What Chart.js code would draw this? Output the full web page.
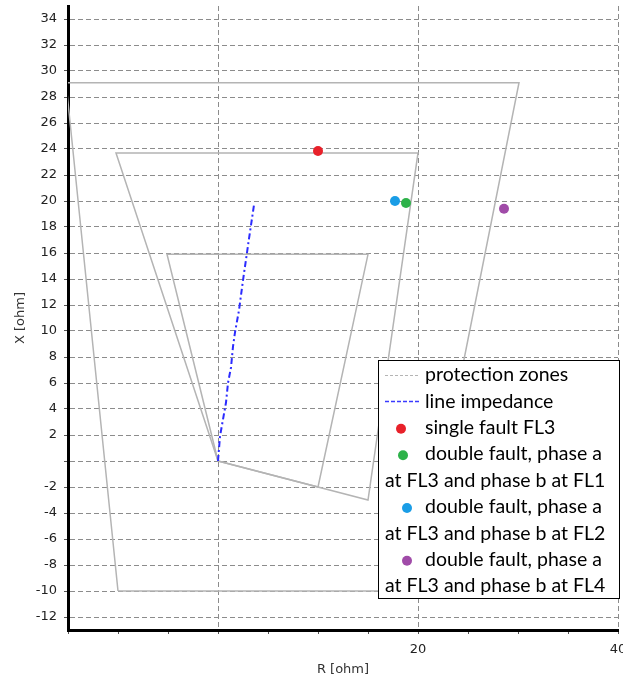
<!DOCTYPE html>
<html>
<head>
<meta charset="utf-8">
<script src="https://cdn.jsdelivr.net/npm/chart.js@4.4.1/dist/chart.umd.min.js"></script>
<style>
html, body { margin: 0; padding: 0; overflow: hidden; background: #fff; }
#wrap { position: relative; width: 623px; height: 683px; }
</style>
</head>
<body>
<div id="wrap"><canvas id="chart"></canvas></div>
<script>
// protection zone polygons (R, X in ohm)
let zone1R = [0, -5.1, 15, 10, 0];
let zone1X = [0, 15.9, 15.9, -2, 0];
let zone2R = [0, -10.2, 20, 15, 0];
let zone2X = [0, 23.7, 23.7, -3, 0];
let zone3R = [-10, -15.2, 30.1, 20, -10];
let zone3X = [-10, 29.1, 29.1, -10, -10];

// line impedance trace
let lineR = [0, 0.2, 0.5, 0.8, 1.0, 1.3, 1.5, 1.7, 2.1, 2.5, 3.1, 3.6];
let lineX = [0, 1.9, 3.2, 4.5, 6.0, 7.2, 8.8, 9.9, 11.6, 13.9, 17.1, 19.7];

// fault points
let faultLabels = [
    ['single fault FL3'],
    ['double fault, phase a', 'at FL3 and phase b at FL1'],
    ['double fault, phase a', 'at FL3 and phase b at FL2'],
    ['double fault, phase a', 'at FL3 and phase b at FL4']
];
let faultR = [10, 18.8, 17.7, 28.6];
let faultX = [23.85, 19.85, 20.0, 19.4];
let faultColors = ['#e8212a', '#2eb24a', '#1a9de6', '#a04ba8'];

// axis ticks
let xTicks = [-15, -10, -5, 0, 5, 10, 15, 20, 25, 30, 35, 40];
let xLabelled = [20, 40];
let yTicks = [-12, -10, -8, -6, -4, -2, 0, 2, 4, 6, 8, 10, 12, 14, 16,
              18, 20, 22, 24, 26, 28, 30, 32, 34];
let yHidden = [0];

let zoneColor = '#b4b4b4';
let lineColor = '#2b2bff';

let toPoints = function (rs, xs) {
    return rs.map((r, i) => ({ x: r, y: xs[i] }));
};

let zoneSet = function (rs, xs, label, inLegend) {
    return {
        label: label,
        data: toPoints(rs, xs),
        showLine: true,
        borderColor: zoneColor,
        borderWidth: 1.5,
        pointRadius: 0,
        tension: 0,
        order: 3,
        legendSkip: !inLegend
    };
};

let datasets = [
    zoneSet(zone1R, zone1X, 'protection zones', true),
    zoneSet(zone2R, zone2X, 'protection zones', false),
    zoneSet(zone3R, zone3X, 'protection zones', false),
    {
        label: 'line impedance',
        data: toPoints(lineR, lineX),
        showLine: true,
        borderColor: lineColor,
        borderWidth: 2,
        borderDash: [6, 3, 2, 3],
        pointRadius: 0,
        tension: 0,
        order: 2
    }
];

faultLabels.forEach((lab, i) => {
    datasets.push({
        label: lab,
        data: [{ x: faultR[i], y: faultX[i] }],
        showLine: false,
        pointRadius: 5,
        pointBorderWidth: 0,
        backgroundColor: faultColors[i],
        borderColor: faultColors[i],
        order: 1
    });
});

// legend drawn inside the plot, lower right
let legendBox = {
    id: 'legendBox',
    afterDatasetsDraw(chart) {
        let c = chart.ctx;
        let dotX = [401, 403, 407, 407];
        let rowY = i => 375 + i * 26.4;
        c.save();
        c.fillStyle = '#fff';
        c.fillRect(378.5, 360.5, 241, 238);
        c.strokeStyle = '#000';
        c.lineWidth = 1;
        c.strokeRect(378.5, 360.5, 241, 238);
        c.font = '19.5px Lato';
        c.textBaseline = 'middle';
        let row = 0;
        let dot = 0;
        chart.data.datasets.forEach(ds => {
            if (ds.legendSkip) return;
            let y = rowY(row);
            if (ds.showLine) {
                let isZone = ds.borderColor === zoneColor;
                c.save();
                c.strokeStyle = isZone ? zoneColor : '#3a3aff';
                c.lineWidth = isZone ? 1.2 : 1.5;
                c.setLineDash(isZone ? [3, 2] : [4, 2]);
                c.beginPath();
                c.moveTo(385, Math.round(y) + 0.5);
                c.lineTo(419, Math.round(y) + 0.5);
                c.stroke();
                c.restore();
            } else {
                c.fillStyle = ds.backgroundColor;
                c.beginPath();
                c.arc(dotX[dot], y + 1, 5, 0, Math.PI * 2);
                c.fill();
                dot++;
            }
            let lines = [].concat(ds.label);
            c.fillStyle = '#000';
            c.fillText(lines[0], 425, y);
            for (let k = 1; k < lines.length; k++) {
                row++;
                c.fillText(lines[k], 385, rowY(row));
            }
            row++;
        });
        c.restore();
    }
};

let tickFont = { family: 'DejaVu Sans', size: 13 };
let titleFont = { family: 'DejaVu Sans', size: 13 };

new Chart(document.getElementById('chart'), {
    type: 'scatter',
    data: { datasets: datasets },
    options: {
        responsive: true,
        maintainAspectRatio: false,
        animation: false,
        events: [],
        layout: { padding: { top: 6, right: 5, left: 0, bottom: 0 } },
        plugins: {
            legend: { display: false },
            tooltip: { enabled: false }
        },
        scales: {
            x: {
                type: 'linear',
                min: -15,
                max: 40,
                afterBuildTicks: s => { s.ticks = xTicks.map(v => ({ value: v })); },
                ticks: {
                    autoSkip: false,
                    maxRotation: 0,
                    padding: 8,
                    color: '#222',
                    font: tickFont,
                    callback: v => xLabelled.includes(v) ? v : ''
                },
                grid: {
                    color: c => (c.tick && c.tick.value % 20 === 0) ? '#8c8c8c' : 'transparent',
                    tickColor: '#555',
                    tickLength: 4,
                    lineWidth: 1
                },
                border: { color: '#000', width: 3, dash: [5, 3] },
                title: {
                    display: true,
                    text: 'R [ohm]',
                    color: '#333',
                    font: titleFont,
                    padding: { top: 0, bottom: 6 }
                },
                afterFit: s => { s.height = 53; s.paddingLeft = 0; s.paddingRight = 0; }
            },
            y: {
                type: 'linear',
                min: -13,
                max: 35,
                afterBuildTicks: s => { s.ticks = yTicks.map(v => ({ value: v })); },
                ticks: {
                    autoSkip: false,
                    padding: 7,
                    color: '#222',
                    font: tickFont,
                    callback: v => yHidden.includes(v) ? '' : v
                },
                grid: {
                    color: '#8c8c8c',
                    tickColor: '#555',
                    tickLength: 4,
                    lineWidth: 1
                },
                border: { color: '#000', width: 3, dash: [5, 3] },
                title: {
                    display: true,
                    text: 'X [ohm]',
                    color: '#333',
                    font: titleFont,
                    padding: { top: 13, bottom: 0 }
                },
                afterFit: s => { s.width = 68; s.paddingTop = 0; s.paddingBottom = 0; }
            }
        }
    },
    plugins: [legendBox]
});
</script>
</body>
</html>
